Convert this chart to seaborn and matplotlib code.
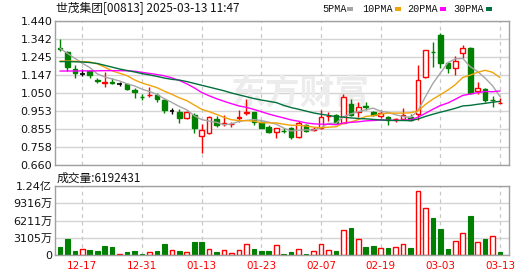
import matplotlib
matplotlib.use("Agg")
import matplotlib.pyplot as plt
import seaborn as sns
import pandas as pd
from matplotlib.patches import Rectangle

sns.set_theme(style="white")
plt.rcParams['font.family'] = ['Noto Sans CJK SC', 'DejaVu Sans']

# ---------------- data ----------------
tick_pos = [3, 11, 19, 27, 35, 43, 51, 59]
tick_labels = ['12-17', '12-31', '01-13', '01-23', '02-07', '02-19', '03-03', '03-13']

open_ = [1.293, 1.272, 1.180, 1.155, 1.167, 1.118, 1.106, 1.111, 1.099, 1.099,
         1.066, 1.028, 1.037, 1.039, 1.012, 0.955, 0.949, 0.913, 0.931, 0.817,
         0.832, 0.907, 0.884, 0.880, 0.913, 0.943, 0.945, 0.895, 0.867, 0.840,
         0.845, 0.859, 0.810, 0.877, 0.851, 0.859, 0.923, 0.931, 0.889, 0.990,
         0.949, 0.977, 0.949, 0.925, 0.922, 0.907, 0.909, 0.918, 0.935, 1.135,
         1.272, 1.364, 1.214, 1.184, 1.265, 1.295, 1.062, 1.072, 1.013, 0.996]
close = [1.290, 1.192, 1.157, 1.155, 1.147, 1.117, 1.110, 1.103, 1.099, 1.072,
         1.054, 1.027, 1.039, 1.017, 0.958, 0.955, 0.915, 0.949, 0.859, 0.850,
         0.918, 0.877, 0.886, 0.882, 0.918, 0.947, 0.895, 0.862, 0.840, 0.859,
         0.844, 0.813, 0.889, 0.844, 0.853, 0.918, 0.925, 0.886, 1.027, 0.931,
         0.976, 0.976, 0.931, 0.940, 0.904, 0.911, 0.931, 0.905, 1.120, 1.283,
         1.270, 1.214, 1.184, 1.225, 1.292, 1.048, 1.079, 1.012, 1.012, 0.998]
high = [1.342, 1.279, 1.203, 1.178, 1.171, 1.130, 1.165, 1.130, 1.111, 1.101,
        1.075, 1.043, 1.081, 1.048, 1.015, 0.967, 0.962, 0.952, 0.940, 0.882,
        0.925, 0.925, 0.931, 0.895, 0.958, 1.016, 0.947, 0.897, 0.875, 0.862,
        0.859, 0.868, 0.898, 0.880, 0.868, 0.958, 0.949, 0.935, 1.043, 1.016,
        1.000, 1.003, 0.955, 0.958, 0.926, 0.915, 0.967, 0.935, 1.202, 1.285,
        1.328, 1.373, 1.220, 1.250, 1.310, 1.297, 1.111, 1.079, 1.034, 1.021]
low = [1.275, 1.171, 1.133, 1.144, 1.133, 1.103, 1.084, 1.100, 1.088, 1.066,
       1.021, 1.012, 1.027, 1.003, 0.943, 0.936, 0.889, 0.910, 0.832, 0.727,
       0.830, 0.868, 0.871, 0.868, 0.895, 0.931, 0.877, 0.858, 0.832, 0.805,
       0.832, 0.800, 0.808, 0.840, 0.846, 0.857, 0.898, 0.880, 0.885, 0.925,
       0.922, 0.958, 0.925, 0.912, 0.877, 0.895, 0.904, 0.897, 0.905, 1.133,
       1.192, 1.184, 1.157, 1.147, 1.241, 1.046, 1.045, 1.003, 0.973, 0.995]

ma5 = [1.292, 1.265, 1.238, 1.211, 1.188, 1.154, 1.137, 1.126, 1.115, 1.100,
       1.088, 1.071, 1.058, 1.042, 1.019, 0.999, 0.977, 0.959, 0.927, 0.906,
       0.898, 0.891, 0.878, 0.883, 0.896, 0.902, 0.906, 0.901, 0.892, 0.881,
       0.860, 0.844, 0.849, 0.850, 0.849, 0.863, 0.886, 0.885, 0.922, 0.937,
       0.949, 0.959, 0.968, 0.951, 0.945, 0.932, 0.923, 0.918, 0.954, 1.030,
       1.102, 1.158, 1.214, 1.235, 1.237, 1.193, 1.166, 1.131, 1.089, 1.030]
ma10 = [1.223, 1.223, 1.222, 1.220, 1.218, 1.208, 1.190, 1.170, 1.157, 1.144,
        1.121, 1.104, 1.092, 1.079, 1.060, 1.043, 1.024, 1.009, 0.985, 0.962,
        0.949, 0.934, 0.918, 0.905, 0.901, 0.900, 0.898, 0.889, 0.888, 0.888,
        0.881, 0.875, 0.875, 0.871, 0.865, 0.862, 0.865, 0.867, 0.886, 0.893,
        0.906, 0.923, 0.927, 0.936, 0.941, 0.941, 0.941, 0.943, 0.953, 0.988,
        1.017, 1.041, 1.066, 1.095, 1.134, 1.147, 1.162, 1.173, 1.162, 1.133]
ma20 = [1.169, 1.169, 1.169, 1.170, 1.170, 1.170, 1.171, 1.171, 1.171, 1.170,
        1.168, 1.162, 1.156, 1.150, 1.143, 1.132, 1.118, 1.100, 1.078, 1.053,
        1.035, 1.019, 1.005, 0.992, 0.980, 0.972, 0.961, 0.949, 0.936, 0.925,
        0.915, 0.904, 0.897, 0.888, 0.883, 0.881, 0.881, 0.878, 0.887, 0.891,
        0.894, 0.899, 0.901, 0.904, 0.903, 0.901, 0.903, 0.905, 0.919, 0.940,
        0.962, 0.982, 0.996, 1.016, 1.037, 1.044, 1.052, 1.058, 1.057, 1.061]
ma30 = [1.220, 1.220, 1.219, 1.218, 1.215, 1.210, 1.200, 1.190, 1.180, 1.172,
        1.164, 1.155, 1.148, 1.140, 1.131, 1.124, 1.120, 1.112, 1.102, 1.092,
        1.082, 1.072, 1.062, 1.050, 1.040, 1.030, 1.020, 1.012, 1.005, 0.998,
        0.983, 0.971, 0.962, 0.952, 0.942, 0.935, 0.929, 0.922, 0.919, 0.915,
        0.912, 0.910, 0.907, 0.904, 0.902, 0.901, 0.901, 0.900, 0.909, 0.923,
        0.935, 0.946, 0.956, 0.967, 0.980, 0.983, 0.989, 0.994, 1.000, 1.005]

volume = [15200000, 29100000, 7300000, 10900000, 9100000, 7300000, 16400000, 14500000, 1800000, 5500000,
          7300000, 1800000, 4800000, 7300000, 20000000, 9100000, 7200000, 4800000, 24000000, 24000000,
          10500000, 5400000, 8400000, 3300000, 8400000, 19900000, 10800000, 7200000, 7200000, 17600000,
          1800000, 5400000, 10200000, 1800000, 7200000, 19800000, 8400000, 7200000, 44400000, 48600000,
          28200000, 14400000, 16200000, 12000000, 12600000, 13800000, 19800000, 12600000, 114600000, 84000000,
          66600000, 46800000, 10800000, 25200000, 39600000, 70200000, 23400000, 28800000, 33600000, 6192431]
vol_up = [0, 0, 0, 1, 0, 0, 0, 0, 1, 0,
          0, 0, 1, 0, 0, 1, 0, 1, 0, 0,
          1, 0, 1, 1, 1, 1, 0, 0, 0, 1,
          0, 0, 1, 0, 1, 1, 1, 0, 1, 0,
          1, 0, 0, 1, 0, 1, 1, 0, 1, 1,
          0, 0, 0, 1, 1, 0, 1, 0, 1, 0]

price_ticks = [0.660, 0.758, 0.855, 0.953, 1.050, 1.147, 1.245, 1.342, 1.440]
vol_ticks = [0, 31052500, 62105000, 93157500, 124210000]
vol_tick_labels = ['0', '3105万', '6211万', '9316万', '1.24亿']
ma_names = ['5PMA', '10PMA', '20PMA', '30PMA']

# ---------------- figure ----------------
RED = '#ff0000'
GREEN = '#008000'
GRID = '#d4d4d4'
BORDER = '#a0a0a0'
ma_colors = ['#a6a6a6', '#f0a30a', '#ff00ff', '#00703c']

fig = plt.figure(figsize=(5.3, 2.76), dpi=100)
W, H = 530.0, 276.0
L, R = 55.0, 509.0
ax = fig.add_axes([L / W, 1 - 165 / H, (R - L) / W, 144 / H])
axv = fig.add_axes([L / W, 1 - 255 / H, (R - L) / W, 69 / H])

n = len(close)
idx = list(range(n))
xlim = (-0.66, 60.2)

for a in (ax, axv):
    a.set_xlim(*xlim)
    a.set_axisbelow(True)
    for s in a.spines.values():
        s.set_color(BORDER)
        s.set_linewidth(1.0)
    for p in tick_pos:
        a.axvline(p, color='#c8c8c8', lw=0.9, ls=(0, (3, 3)), zorder=0.5)

# watermark
ax.text(0.54, 0.50, '东方财富', transform=ax.transAxes, fontsize=25, fontweight='bold',
        color='#ececec', ha='center', va='center', zorder=0.6)

# horizontal grid
for t in price_ticks:
    ax.axhline(t, color=GRID, lw=1.0, zorder=0.4)
for t in vol_ticks:
    axv.axhline(t, color=GRID, lw=1.0, zorder=0.4)

# candles
bw = 0.62
for i in idx:
    o, c, h, l = open_[i], close[i], high[i], low[i]
    if c > o:
        col = RED
    elif c < o:
        col = GREEN
    else:
        col = 'black'
    ax.vlines(i, l, h, color=col, lw=1.0, zorder=2)
    if c == o:
        ax.hlines(c, i - bw / 2, i + bw / 2, color=col, lw=1.2, zorder=2.5)
    else:
        bottom = min(o, c)
        height = abs(c - o)
        face = 'white' if c > o else col
        ax.add_patch(Rectangle((i - bw / 2, bottom), bw, height, facecolor=face,
                               edgecolor=col, lw=1.0, zorder=2.5))

# moving averages
df = pd.DataFrame({'i': idx, '5PMA': ma5, '10PMA': ma10, '20PMA': ma20, '30PMA': ma30})
for name, colr in zip(ma_names, ma_colors):
    sns.lineplot(data=df, x='i', y=name, ax=ax, color=colr, lw=1.0, estimator=None,
                 sort=False, zorder=3, legend=False)

ax.set_ylim(0.660, 1.440)
ax.set_yticks(price_ticks)
ax.set_yticklabels([f'{t:.3f}' for t in price_ticks])
ax.set_xticks([])
ax.set_xlabel('')
ax.set_ylabel('')
ax.tick_params(axis='y', length=0, pad=2, labelsize=8, labelcolor='#111111')
for lab in ax.get_yticklabels():
    lab.set_fontfamily(['DejaVu Sans'])

# volume bars
vdf = pd.DataFrame({'i': idx, 'v': volume, 'up': vol_up})
up = vdf[vdf['up'] == 1]
dn = vdf[vdf['up'] == 0]
axv.bar(dn['i'], dn['v'], width=bw, color=GREEN, edgecolor=GREEN, lw=0.8, zorder=2)
axv.bar(up['i'], up['v'], width=bw, facecolor='white', edgecolor=RED, lw=1.0, zorder=2)
axv.set_ylim(0, 124210000)
axv.set_yticks(vol_ticks)
axv.set_yticklabels(vol_tick_labels)
axv.tick_params(axis='y', length=0, pad=2, labelsize=8, labelcolor='#111111')
for lab in axv.get_yticklabels():
    lab.set_fontfamily(['DejaVu Sans', 'Noto Sans CJK SC'])
axv.set_xticks(tick_pos)
axv.set_xticklabels(tick_labels)
axv.tick_params(axis='x', length=0, pad=4, labelsize=7.5, labelcolor=RED)
for lab in axv.get_xticklabels():
    lab.set_fontfamily(['DejaVu Sans'])
axv.set_xlabel('')
axv.set_ylabel('')

# texts
fig.text(56 / W, 1 - 9 / H, '世茂集团[00813] 2025-03-13 11:47', fontsize=8.5,
         va='center', ha='left', color='#111111')
fig.text(57 / W, 1 - 178 / H, '成交量:6192431', fontsize=8.5, va='center', ha='left',
         color='#111111')

# legend (text followed by a small colour bar)
leg_text_x = [322, 362, 407, 453]
leg_mark_x = [347, 395, 440, 486]
for name, colr, tx, mx in zip(ma_names, ma_colors, leg_text_x, leg_mark_x):
    fig.text(tx / W, 1 - 9 / H, name, fontsize=7.3, family=['Liberation Mono'],
             va='center', ha='left', color='#111111')
    fig.add_artist(Rectangle((mx / W, 1 - 10.5 / H), 6 / W, 3 / H, transform=fig.transFigure,
                             facecolor=colr, edgecolor='none'))

fig.savefig('out.png', dpi=100, facecolor='white')
